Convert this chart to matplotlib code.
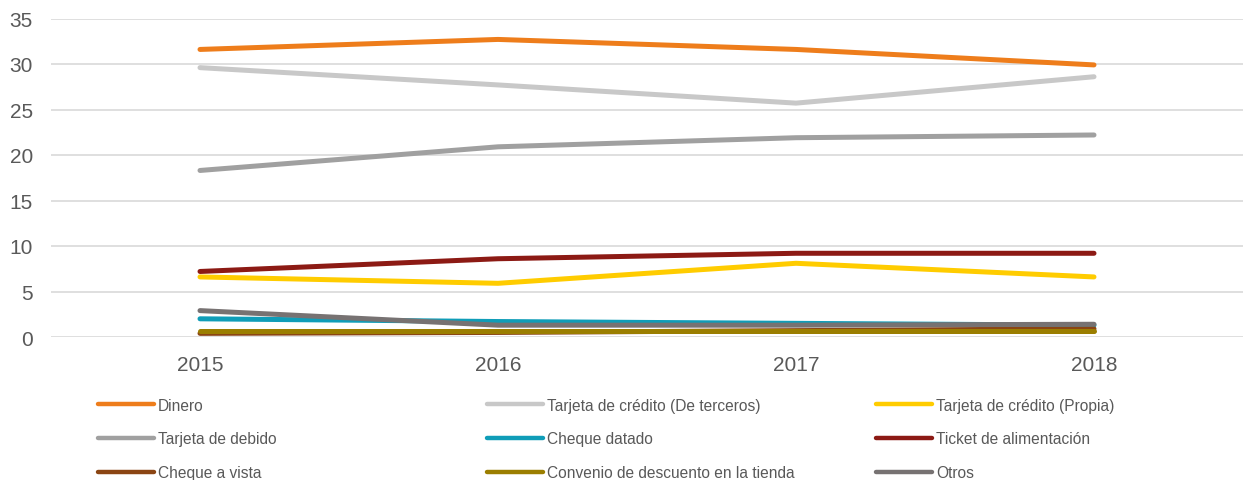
import matplotlib
matplotlib.use("Agg")
import matplotlib.pyplot as plt

plt.rcParams['font.family'] = ['Liberation Sans', 'DejaVu Sans']

years = ["2015", "2016", "2017", "2018"]
series_names = ["Dinero", "Tarjeta de crédito (De terceros)", "Tarjeta de crédito (Propia)",
                "Tarjeta de debido", "Cheque datado", "Ticket de alimentación",
                "Cheque a vista", "Convenio de descuento en la tienda", "Otros"]
dinero = [31.6, 32.7, 31.6, 29.9]
credito_terceros = [29.6, 27.7, 25.7, 28.6]
credito_propia = [6.6, 5.9, 8.1, 6.6]
debido = [18.3, 20.9, 21.9, 22.2]
cheque_datado = [2.0, 1.7, 1.5, 1.3]
ticket = [7.2, 8.6, 9.2, 9.2]
cheque_vista = [0.4, 0.5, 0.7, 0.9]
convenio = [0.7, 0.7, 0.7, 0.7]
otros = [2.9, 1.3, 1.3, 1.4]
yticks = [0, 5, 10, 15, 20, 25, 30, 35]

values = [dinero, credito_terceros, credito_propia, debido, cheque_datado, ticket,
          cheque_vista, convenio, otros]
colors = ["#EE7D1B", "#C8C8C8", "#FFCC00", "#A0A0A0", "#0F9DB8", "#8C1A14",
          "#8B4513", "#9B7E00", "#777272"]

fig = plt.figure(figsize=(12.43, 4.81), dpi=100)
ax = fig.add_axes([51/1243, 1-338/481, 1-51/1243, (338-19.5)/481])

x = list(range(len(years)))
handles = []
for name, vals, c in zip(series_names, values, colors):
    h, = ax.plot(x, vals, color=c, lw=3.6, solid_capstyle='round', label=name)
    handles.append(h)

ax.set_xlim(-0.5, 3.5)
ax.set_ylim(0, 35)
ax.set_yticks(yticks)
ax.set_xticks(x)
ax.set_xticklabels(years)
ax.grid(axis='y', color='#D9D9D9', lw=1.2)
ax.set_axisbelow(True)
for s in ax.spines.values():
    s.set_visible(False)
ax.tick_params(axis='both', length=0, labelsize=15, colors='#595959')
ax.tick_params(axis='x', pad=13)
ax.tick_params(axis='y', pad=13)

col_x = [98, 487, 876]
for ci, cx in enumerate(col_x):
    idx = [ci, ci + 3, ci + 6]
    leg = fig.legend([handles[i] for i in idx], [series_names[i] for i in idx],
                     loc='center left', bbox_to_anchor=(cx/1243, 1-440/481),
                     frameon=False, fontsize=11.2, handlelength=3.6,
                     handletextpad=0.25, labelspacing=1.2, borderpad=0, borderaxespad=0)
    for t in leg.get_texts():
        t.set_color('#595959')
    for l in leg.get_lines():
        l.set_linewidth(3.2)

fig.savefig("out.png", dpi=100)
